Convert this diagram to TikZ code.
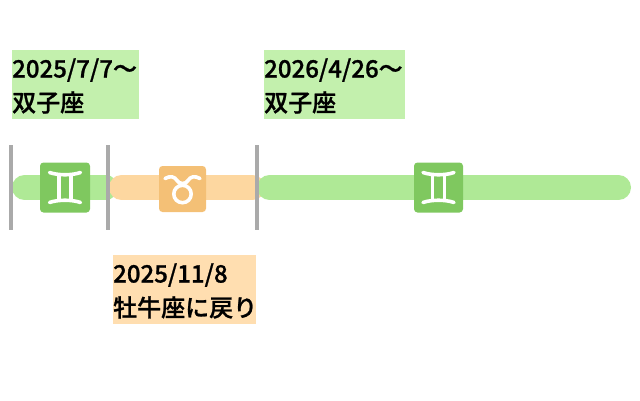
\documentclass[tikz,border=0pt]{standalone}
\usepackage{fontspec}
\newfontfamily\labelfont{Noto Sans CJK JP Medium}[FakeBold=1]
\definecolor{gband}{HTML}{AFE996}
\definecolor{oband}{HTML}{FDD7A0}
\definecolor{glabel}{HTML}{C3F0AD}
\definecolor{olabel}{HTML}{FFDEB0}
\definecolor{gicon}{HTML}{7FC85F}
\definecolor{oicon}{HTML}{F4C076}
\definecolor{tick}{HTML}{AAAAAA}
\tikzset{
  x=1pt,y=-1pt,
  band/.style={line width=25pt,line cap=round},
  divider/.style={draw=tick,line width=4pt},
  iconbox/.style={rounded corners=3.5pt,draw=none},
  glyph/.style={draw=white,line width=3.6pt,line cap=round,fill=none},
  glyphthin/.style={draw=white,line width=3.6pt},
  labeltext/.style={anchor=base west,inner sep=0pt,font=\labelfont\fontsize{24}{24}\selectfont},
}
\begin{document}
\begin{tikzpicture}
\useasboundingbox (0,0) rectangle (640,400);
\draw[band,gband] (24.5,187.5) -- (105.5,187.5);
\draw[band,oband] (121.5,187.5) -- (252.5,187.5);
\draw[band,gband] (269.5,187.5) -- (618.5,187.5);
\coordinate (d1t) at (11,145); \coordinate (d1b) at (11,230);
\coordinate (d2t) at (108,145); \coordinate (d2b) at (108,230);
\coordinate (d3t) at (257,145); \coordinate (d3b) at (257,230);
\draw[divider] (d1t) -- (d1b);
\draw[divider] (d2t) -- (d2b);
\draw[divider] (d3t) -- (d3b);
\fill[gicon,iconbox] (40,162.5) rectangle (90,212.5);
\draw[glyph] (49.5,172.5) .. controls (58,175.5) and (72,175.5) .. (80.5,172.5);
\draw[glyph] (49.5,202.5) .. controls (58,199.5) and (72,199.5) .. (80.5,202.5);
\draw[glyphthin] (59,175) -- (59,201);
\draw[glyphthin] (71,175) -- (71,201);
\fill[gicon,iconbox] (414,162.5) rectangle (463,212.5);
\draw[glyph] (423,172.5) .. controls (431.5,175.5) and (445.5,175.5) .. (454,172.5);
\draw[glyph] (423,202.5) .. controls (431.5,199.5) and (445.5,199.5) .. (454,202.5);
\draw[glyphthin] (432.5,175) -- (432.5,201);
\draw[glyphthin] (444.5,175) -- (444.5,201);
\fill[oicon,iconbox] (159,166) rectangle (206,212);
\draw[glyph] (165,178.5) .. controls (170.5,175.5) and (174.5,176.5) .. (177,180.5) .. controls (179,184.5) and (186,184.5) .. (188,180.5) .. controls (190.5,176.5) and (194.5,175.5) .. (200,178.5);
\draw[glyphthin] (182.5,194) circle (8.7);
\fill[glabel] (12,50) rectangle (139,119);
\fill[glabel] (264,50) rectangle (405,119);
\fill[olabel] (113,255) rectangle (256,324);
\node[labeltext] (a1) at (12,77.5) {2025/7/7〜};
\node[labeltext] (a2) at (12,111.5) {双子座};
\node[labeltext] (b1) at (264,77.5) {2026/4/26〜};
\node[labeltext] (b2) at (264,111.5) {双子座};
\node[labeltext] (c1) at (113,282.5) {2025/11/8};
\node[labeltext] (c2) at (113,316.5) {牡牛座に戻り};
\end{tikzpicture}
\end{document}
